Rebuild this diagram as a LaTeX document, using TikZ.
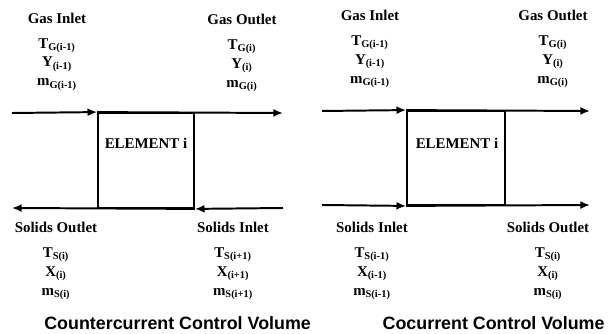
\documentclass[tikz,border=0pt]{standalone}
\usepackage{fontspec}
\setmainfont{Liberation Serif}
\newfontfamily\titlefont{Liberation Sans}
\usetikzlibrary{arrows.meta,positioning}

\begin{document}
\begin{tikzpicture}[
        font=\bfseries\fontsize{10.6}{13.5}\selectfont,
        >={Latex[length=2.4mm,width=2mm]},
        flow/.style={line width=1.4pt},
        element/.style={rectangle, draw, line width=1.3pt, minimum width=2.4cm,
            minimum height=2.375cm, inner sep=0pt},
        stream/.style={align=center, inner sep=0pt, anchor=north},
        volume/.style={font=\titlefont\bfseries\fontsize{12.7}{15}\selectfont, inner sep=0pt}
    ]
        \useasboundingbox (0,0) rectangle (15.375,-8.35);

        % countercurrent
        \node[element] (boxcc) at (3.65,-4.0125) {};
        \node (elemcc) at (3.65,-3.575) {ELEMENT i};
        \coordinate (gascc-in)  at (0.3,-2.825);
        \coordinate (gascc-out) at (7.075,-2.825);
        \coordinate (solcc-in)  at (7.075,-5.2);
        \coordinate (solcc-out) at (0.3,-5.2);

        \node[stream] (gincc)  at (1.425,-0.32) {Gas Inlet\\[4pt] T\textsubscript{G(i-1)}\\ Y\textsubscript{(i-1)}\\ m\textsubscript{G(i-1)}};
        \node[stream] (goutcc) at (6.05,-0.35)  {Gas Outlet\\[4pt] T\textsubscript{G(i)}\\ Y\textsubscript{(i)}\\ m\textsubscript{G(i)}};
        \node[stream] (soutcc) at (1.4,-5.55)   {Solids Outlet\\[4pt] T\textsubscript{S(i)}\\ X\textsubscript{(i)}\\ m\textsubscript{S(i)}};
        \node[stream] (sincc)  at (5.825,-5.55) {Solids Inlet\\[4pt] T\textsubscript{S(i+1)}\\ X\textsubscript{(i+1)}\\ m\textsubscript{S(i+1)}};

        \draw[flow,->] (gascc-in) -- (boxcc.north west);
        \draw[flow,->] (boxcc.north west) -- (gascc-out);
        \draw[flow,->] (solcc-in) -- (boxcc.south east);
        \draw[flow,->] (boxcc.south east) -- (solcc-out);

        \node[volume] (titlecc) at (4.44,-8.075) {Countercurrent Control Volume};

        % cocurrent
        \node[element, minimum width=2.45cm, minimum height=2.35cm] (boxco) at (11.4,-3.95) {};
        \node (elemco) at (11.425,-3.575) {ELEMENT i};
        \coordinate (gasco-in)  at (8.05,-2.775);
        \coordinate (gasco-out) at (14.75,-2.775);
        \coordinate (solco-in)  at (8.05,-5.125);
        \coordinate (solco-out) at (14.75,-5.125);

        \node[stream] (ginco)  at (9.25,-0.25)   {Gas Inlet\\[4pt] T\textsubscript{G(i-1)}\\ Y\textsubscript{(i-1)}\\ m\textsubscript{G(i-1)}};
        \node[stream] (goutco) at (13.825,-0.25) {Gas Outlet\\[4pt] T\textsubscript{G(i)}\\ Y\textsubscript{(i)}\\ m\textsubscript{G(i)}};
        \node[stream] (sinco)  at (9.3,-5.55)    {Solids Inlet\\[4pt] T\textsubscript{S(i-1)}\\ X\textsubscript{(i-1)}\\ m\textsubscript{S(i-1)}};
        \node[stream] (soutco) at (13.7,-5.55)   {Solids Outlet\\[4pt] T\textsubscript{S(i)}\\ X\textsubscript{(i)}\\ m\textsubscript{S(i)}};

        \draw[flow,->] (gasco-in) -- (boxco.north west);
        \draw[flow,->] (boxco.north west) -- (gasco-out);
        \draw[flow,->] (solco-in) -- (boxco.south west);
        \draw[flow,->] (boxco.south west) -- (solco-out);

        \node[volume] (titleco) at (12.34,-8.075) {Cocurrent Control Volume};
    \end{tikzpicture}
\end{document}
